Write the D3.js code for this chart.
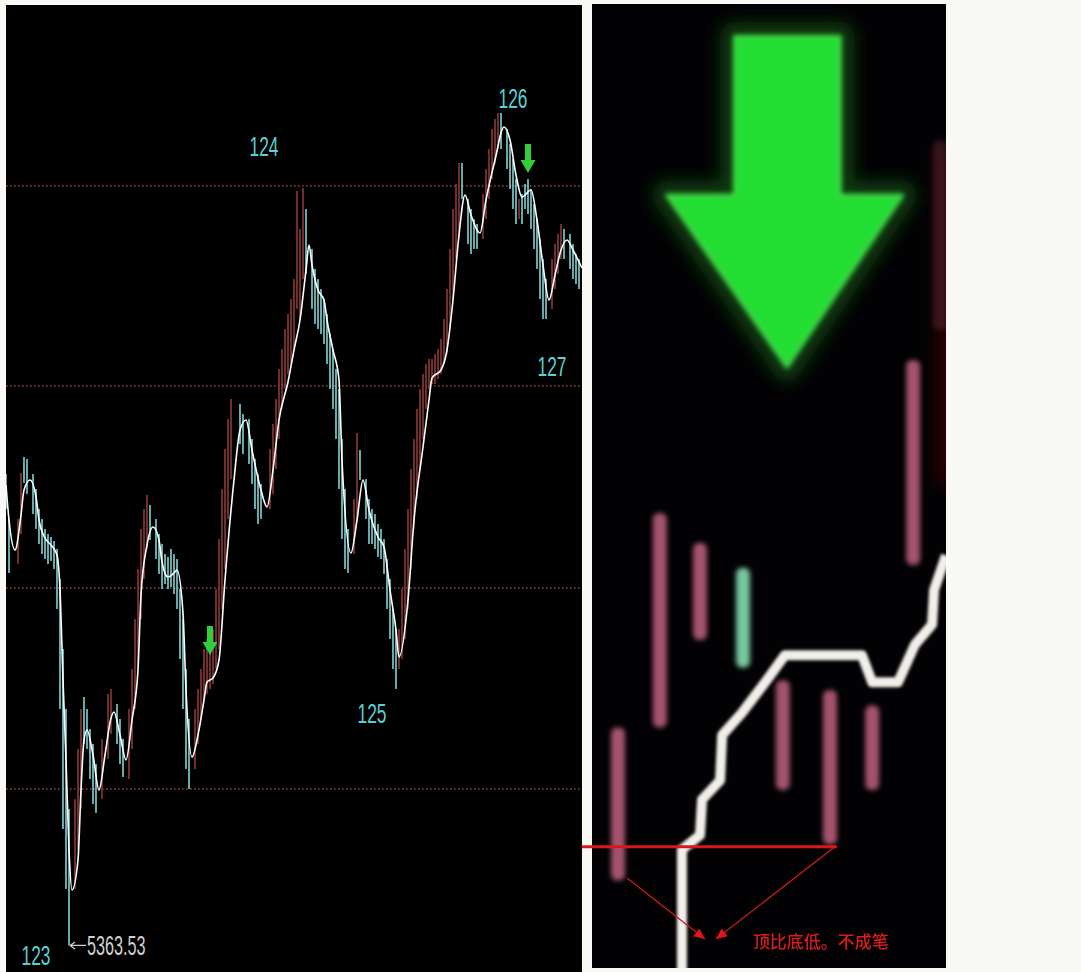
<!DOCTYPE html>
<html>
<head>
<meta charset="utf-8">
<script src="https://cdn.jsdelivr.net/npm/d3@7"></script>
<style>
body { margin: 0; background: #f9f9f5; }
#chart { position: absolute; left: 0; top: 0; }
</style>
</head>
<body>
<div id="chart"></div>
<script>
// 左图：分时走势 白线 + 细K线
var lineIdx = [0, 1, 3, 5, 6, 8, 10, 11, 13, 15, 17, 18, 19, 20, 21, 22, 24, 25, 26, 27, 29, 31, 33, 35, 36, 38, 40, 42, 44, 45,
    47, 49, 51, 52, 54, 56, 57, 59, 60, 62, 64, 66, 67, 69, 71, 73, 76, 78, 80, 82, 85, 87, 89, 91, 94, 96, 98, 100, 101, 102,
    104, 106, 107, 109, 111, 112, 115, 117, 119, 121, 124, 126, 128, 130, 131, 134, 136, 139, 141, 142, 145, 147, 149, 151, 153, 155, 158, 160, 163, 166,
    168, 170, 172, 175, 177, 179, 181, 183, 185, 187, 189, 191, 192];
var lineVal = [5824, 5789, 5759, 5794, 5819, 5829, 5812, 5789, 5771, 5764, 5754, 5719, 5629, 5549, 5459, 5419, 5449, 5519, 5569, 5579,
    5554, 5519, 5554, 5591, 5597, 5574, 5549, 5589, 5639, 5714, 5764, 5782, 5769, 5747, 5732, 5736, 5739, 5696, 5619, 5552,
    5574, 5609, 5627, 5631, 5649, 5729, 5829, 5879, 5889, 5859, 5819, 5802, 5839, 5889, 5927, 5959, 5989, 6039, 6064, 6044,
    6019, 6009, 5989, 5959, 5929, 5849, 5756, 5789, 5829, 5799, 5772, 5762, 5719, 5679, 5652, 5709, 5789, 5862, 5909, 5931,
    5939, 5959, 6009, 6074, 6114, 6094, 6076, 6109, 6149, 6182, 6169, 6134, 6112, 6119, 6089, 6044, 6009, 6034, 6059, 6069,
    6059, 6047, 6041];

var candleIdx = [0, 1, 4, 5, 6, 7, 9, 10, 11, 12, 13, 14, 15, 16, 17, 18, 19, 20, 21, 23, 24, 25, 26, 27, 28, 29, 30, 32, 34, 35,
    37, 38, 39, 41, 42, 43, 44, 45, 46, 47, 48, 50, 51, 52, 53, 54, 55, 56, 57, 58, 59, 60, 61, 63, 64, 65, 66, 67, 68, 69,
    70, 71, 72, 73, 74, 75, 78, 79, 81, 82, 83, 84, 85, 88, 89, 90, 91, 92, 93, 94, 95, 96, 97, 98, 99, 100, 102, 103, 104, 105,
    106, 107, 108, 109, 110, 111, 112, 113, 114, 116, 117, 118, 120, 121, 122, 123, 124, 125, 126, 127, 128, 129, 130, 131, 132, 133, 134, 135, 136, 137,
    138, 139, 140, 141, 142, 143, 144, 145, 146, 147, 148, 149, 150, 151, 152, 154, 155, 156, 157, 159, 160, 161, 162, 163, 164, 165, 167, 168, 169, 170,
    171, 172, 173, 174, 175, 176, 177, 178, 179, 180, 182, 183, 184, 185, 186, 188, 189, 190, 191];
var candleOpen = [5835, 5790, 5745, 5775, 5852, 5850, 5835, 5820, 5800, 5790, 5780, 5775, 5772, 5768, 5760, 5730, 5660, 5600, 5500, 5420, 5460, 5500, 5612, 5600, 5580, 5565, 5545, 5510, 5550, 5575,
    5605, 5590, 5570, 5530, 5560, 5600, 5640, 5690, 5730, 5760, 5804, 5790, 5775, 5765, 5755, 5752, 5760, 5755, 5750, 5720, 5690, 5640, 5590, 5540, 5565, 5590, 5610, 5615, 5620, 5625,
    5640, 5660, 5700, 5740, 5790, 5830, 5905, 5895, 5890, 5870, 5850, 5835, 5825, 5800, 5815, 5840, 5870, 5900, 5920, 5935, 5945, 5960, 6000, 5990, 6030, 6100, 6060, 6040, 6030, 6020,
    6010, 5995, 5975, 5960, 5940, 5920, 5870, 5820, 5780, 5755, 5790, 5859, 5830, 5810, 5800, 5795, 5785, 5780, 5770, 5750, 5730, 5700, 5680, 5640, 5650, 5670, 5700, 5740, 5780, 5810,
    5840, 5870, 5900, 5920, 5925, 5925, 5930, 5935, 5945, 5955, 5980, 6010, 6050, 6070, 6146, 6110, 6100, 6090, 6085, 6070, 6090, 6110, 6130, 6145, 6160, 6196, 6180, 6165, 6150, 6130,
    6090, 6115, 6125, 6130, 6120, 6105, 6090, 6070, 6050, 6030, 6000, 6020, 6035, 6050, 6080, 6075, 6065, 6055, 6050];
var candleClose = [5800, 5736, 5790, 5836, 5826, 5815, 5795, 5780, 5765, 5755, 5750, 5745, 5748, 5740, 5700, 5600, 5480, 5420, 5363.53, 5510, 5560, 5600, 5565, 5560, 5530, 5505, 5496, 5570, 5615, 5620,
    5565, 5545, 5532, 5600, 5640, 5690, 5740, 5780, 5800, 5814, 5769, 5750, 5735, 5720, 5725, 5720, 5722, 5715, 5700, 5650, 5600, 5540, 5520, 5600, 5620, 5640, 5660, 5670, 5660, 5680,
    5720, 5770, 5820, 5860, 5890, 5910, 5865, 5855, 5845, 5825, 5800, 5785, 5790, 5860, 5885, 5910, 5940, 5960, 5980, 5995, 6010, 6030, 6118, 6080, 6121, 6035, 6000, 5985, 5980, 5975,
    5965, 5945, 5920, 5900, 5870, 5820, 5770, 5740, 5736, 5810, 5876, 5829, 5790, 5765, 5765, 5760, 5752, 5750, 5735, 5700, 5670, 5640, 5620, 5680, 5720, 5760, 5800, 5840, 5870, 5900,
    5920, 5935, 5945, 5950, 5950, 5955, 5960, 5970, 5990, 6020, 6060, 6100, 6125, 6146, 6110, 6065, 6055, 6060, 6060, 6115, 6140, 6160, 6180, 6190, 6196, 6160, 6140, 6120, 6100, 6085,
    6110, 6085, 6100, 6095, 6080, 6060, 6040, 6010, 5990, 5990, 6050, 6065, 6075, 6085, 6050, 6040, 6030, 6025, 6020];

var gridVals = [5520, 5721, 5923, 6123];
var pivotText = ["123", "124", "125", "126", "127"];
var pivotIdx = [10, 86, 122, 169, 182];
var pivotVal = [5344, 6153, 5586, 6201, 5933];
var lowIdx = 21, lowVal = 5363.53;
var signalIdx = [68, 174];
var signalVal = [5654, 6136];

// 右图：局部放大
var zoomIdx = [0, 1.02, 2.0, 3.05, 4.02, 5.17, 6.2, 7.2, 7.85];
var zoomOpen = [9.0, 24.9, 34.0, 41.5, 18.4, 12.7, 18.4, 41.8, 66.2];
var zoomClose = [24.9, 47.2, 44.1, 31.1, 29.8, 28.8, 27.2, 63.1, 86.0];
var stepIdx = [1.56, 1.56, 2.0, 2.05, 2.49, 2.54, 3.02, 3.59, 4.07, 5.95, 6.2, 6.83, 7.24, 7.66, 7.71, 8.0];
var stepVal = [-0.5, 12.2, 13.7, 17.4, 19.4, 24.1, 26.4, 29.6, 32.4, 32.4, 29.6, 29.6, 33.5, 35.6, 39.2, 42.8];
var bigArrowIdx = [2.85, 5.41, 5.41, 6.93, 4.12, 1.2, 2.85];
var bigArrowVal = [96.7, 96.7, 80.2, 80.2, 62.4, 80.2, 80.2];
var levelLine = { from: -0.88, to: 5.34, val: 12.5 };
var noteArrows = [[0.22, 9.25, 2.12, 2.9], [5.29, 12.5, 2.39, 2.9]];
var noteText = "顶比底低。不成笔";
var noteIdx = 3.29, noteVal = 2.0;

var svg = d3.select("#chart").append("svg")
    .attr("width", 1081)
    .attr("height", 972);

var defs = svg.append("defs");
defs.append("clipPath").attr("id", "leftClip")
    .append("rect").attr("x", 6).attr("y", 5).attr("width", 576).attr("height", 967);
defs.append("clipPath").attr("id", "rightClip")
    .append("rect").attr("x", 592).attr("y", 4).attr("width", 354).attr("height", 964);
[["blurS", 0.6], ["blurM", 1.6], ["blurL", 2.6], ["blurXL", 8]].forEach(function (f) {
    defs.append("filter").attr("id", f[0])
        .attr("filterUnits", "userSpaceOnUse")
        .attr("x", 0).attr("y", 0).attr("width", 1081).attr("height", 972)
        .append("feGaussianBlur").attr("stdDeviation", f[1]);
});

// ---------- 左图 ----------
var x = d3.scaleLinear().domain([0, 192]).range([6, 582]);
var y = d3.scaleLinear().domain([5520, 6123]).range([789, 186]);

svg.append("rect").attr("x", 6).attr("y", 5).attr("width", 576).attr("height", 967).attr("fill", "#000");

var left = svg.append("g").attr("clip-path", "url(#leftClip)");

left.selectAll(".grid")
    .data(gridVals)
    .enter().append("line")
    .attr("x1", 6).attr("x2", 582)
    .attr("y1", function (d) { return y(d); })
    .attr("y2", function (d) { return y(d); })
    .attr("stroke", "#9a4a40")
    .attr("stroke-width", 1.5)
    .attr("stroke-dasharray", "1.5,2.5");

var candles = candleIdx.map(function (d, i) {
    return { i: d, o: candleOpen[i], c: candleClose[i] };
});

left.selectAll(".stick")
    .data(candles)
    .enter().append("line")
    .attr("x1", function (d) { return x(d.i); })
    .attr("x2", function (d) { return x(d.i); })
    .attr("y1", function (d) { return y(Math.max(d.o, d.c)); })
    .attr("y2", function (d) { return y(Math.min(d.o, d.c)); })
    .attr("stroke", function (d) { return d.c >= d.o ? "#8e3838" : "#7fd6d6"; })
    .attr("stroke-width", 1.6);

var lineData = lineIdx.map(function (d, i) { return [d, lineVal[i]]; });
left.append("path")
    .datum(lineData)
    .attr("fill", "none")
    .attr("stroke", "#ffffff")
    .attr("stroke-width", 1.6)
    .attr("d", d3.line()
        .x(function (d) { return x(d[0]); })
        .y(function (d) { return y(d[1]); })
        .curve(d3.curveMonotoneX));

// 绿色小箭头
function arrowPath(tx, ty, w, h, sw, hh) {
    return "M" + (tx - sw / 2) + "," + (ty - h) +
        "L" + (tx + sw / 2) + "," + (ty - h) +
        "L" + (tx + sw / 2) + "," + (ty - hh) +
        "L" + (tx + w / 2) + "," + (ty - hh) +
        "L" + tx + "," + ty +
        "L" + (tx - w / 2) + "," + (ty - hh) +
        "L" + (tx - sw / 2) + "," + (ty - hh) + "Z";
}
left.selectAll(".signal")
    .data(signalIdx)
    .enter().append("path")
    .attr("d", function (d, i) { return arrowPath(x(d), y(signalVal[i]), 15, 29, 6, 13); })
    .attr("fill", "#2fd03a");

// 笔的编号
left.selectAll(".pivot")
    .data(pivotText)
    .enter().append("text")
    .attr("transform", function (d, i) {
        return "translate(" + x(pivotIdx[i]) + "," + y(pivotVal[i]) + ") scale(0.62,1)";
    })
    .attr("text-anchor", "middle")
    .attr("font-family", "Liberation Sans, Arial, sans-serif")
    .attr("font-size", 28)
    .attr("fill", "#5ccfd4")
    .text(function (d) { return d; });

// 最低点标注
var lx = x(lowIdx) + 1, ly = y(lowVal);
left.append("path")
    .attr("d", "M" + lx + "," + ly + "L" + (lx + 16) + "," + ly +
        "M" + lx + "," + ly + "L" + (lx + 5) + "," + (ly - 3.5) +
        "M" + lx + "," + ly + "L" + (lx + 5) + "," + (ly + 3.5))
    .attr("stroke", "#cfcfcf")
    .attr("stroke-width", 1.3)
    .attr("fill", "none");
left.append("text")
    .attr("transform", "translate(" + (lx + 17) + "," + (ly + 10) + ") scale(0.6,1)")
    .attr("font-family", "Liberation Sans, Arial, sans-serif")
    .attr("font-size", 27)
    .attr("fill", "#cfcfcf")
    .text(lowVal.toFixed(2));

// ---------- 右图 ----------
var zx = d3.scaleLinear().domain([0, 8]).range([618, 946]);
var zy = d3.scaleLinear().domain([0, 100]).range([967, 5]);

svg.append("rect").attr("x", 592).attr("y", 4).attr("width", 354).attr("height", 964).attr("fill", "#020104");

var right = svg.append("g").attr("clip-path", "url(#rightClip)");

// 右边缘暗红光晕
right.append("rect")
    .attr("x", zx(7.75)).attr("y", zy(85)).attr("width", 20).attr("height", zy(50) - zy(85))
    .attr("fill", "#2a0306").attr("filter", "url(#blurXL)");

var bigArrow = d3.line()
    .x(function (d) { return zx(d[0]); })
    .y(function (d) { return zy(d[1]); });
var bigArrowData = bigArrowIdx.map(function (d, i) { return [d, bigArrowVal[i]]; });

right.append("path")
    .datum(bigArrowData)
    .attr("d", function (d) { return bigArrow(d) + "Z"; })
    .attr("fill", "#08380e")
    .attr("stroke", "#08380e")
    .attr("stroke-width", 30)
    .attr("stroke-linejoin", "round")
    .attr("filter", "url(#blurXL)");

var zoomCandles = zoomIdx.map(function (d, i) {
    return { i: d, o: zoomOpen[i], c: zoomClose[i], last: i === zoomIdx.length - 1 };
});

right.selectAll(".zcandle")
    .data(zoomCandles)
    .enter().append("rect")
    .attr("x", function (d) { return zx(d.i) - 7; })
    .attr("width", 14)
    .attr("y", function (d) { return zy(Math.max(d.o, d.c)); })
    .attr("height", function (d) { return zy(Math.min(d.o, d.c)) - zy(Math.max(d.o, d.c)); })
    .attr("rx", 6)
    .attr("fill", function (d) { return d.c >= d.o ? "#ac5872" : "#7ed2a8"; })
    .attr("opacity", function (d) { return d.last ? 0.22 : 0.95; })
    .attr("filter", "url(#blurL)");

var stepData = stepIdx.map(function (d, i) { return [d, stepVal[i]]; });
right.append("path")
    .datum(stepData)
    .attr("fill", "none")
    .attr("stroke", "#f2efea")
    .attr("stroke-width", 10)
    .attr("stroke-linejoin", "round")
    .attr("filter", "url(#blurM)")
    .attr("d", d3.line()
        .x(function (d) { return zx(d[0]); })
        .y(function (d) { return zy(d[1]); }));

right.append("path")
    .datum(bigArrowData)
    .attr("d", function (d) { return bigArrow(d) + "Z"; })
    .attr("fill", "#22dd30")
    .attr("stroke", "#3fd84a")
    .attr("stroke-width", 4)
    .attr("stroke-linejoin", "round")
    .attr("filter", "url(#blurL)");

// 红色水平线（延伸到两图之间）
svg.append("line")
    .attr("x1", zx(levelLine.from)).attr("x2", zx(levelLine.to))
    .attr("y1", zy(levelLine.val)).attr("y2", zy(levelLine.val))
    .attr("stroke", "#d8181a")
    .attr("stroke-width", 3)
    .attr("filter", "url(#blurS)");

var notes = right.append("g").attr("filter", "url(#blurS)");
noteArrows.forEach(function (a) {
    var x0 = zx(a[0]), y0 = zy(a[1]), x1 = zx(a[2]), y1 = zy(a[3]);
    var ang = Math.atan2(y1 - y0, x1 - x0);
    notes.append("line")
        .attr("x1", x0).attr("y1", y0).attr("x2", x1).attr("y2", y1)
        .attr("stroke", "#c81c1c").attr("stroke-width", 1.3);
    var L = 11, W = 5;
    var bx = x1 - L * Math.cos(ang), by = y1 - L * Math.sin(ang);
    notes.append("path")
        .attr("d", "M" + x1 + "," + y1 +
            "L" + (bx + W * Math.sin(ang)) + "," + (by - W * Math.cos(ang)) +
            "L" + (bx - W * Math.sin(ang)) + "," + (by + W * Math.cos(ang)) + "Z")
        .attr("fill", "#e01818");
});

notes.append("text")
    .attr("x", zx(noteIdx))
    .attr("y", zy(noteVal))
    .attr("font-family", "Noto Sans CJK SC, sans-serif")
    .attr("font-size", 17)
    .attr("font-weight", 500)
    .attr("fill", "#d81e1e")
    .text(noteText);
</script>
</body>
</html>
